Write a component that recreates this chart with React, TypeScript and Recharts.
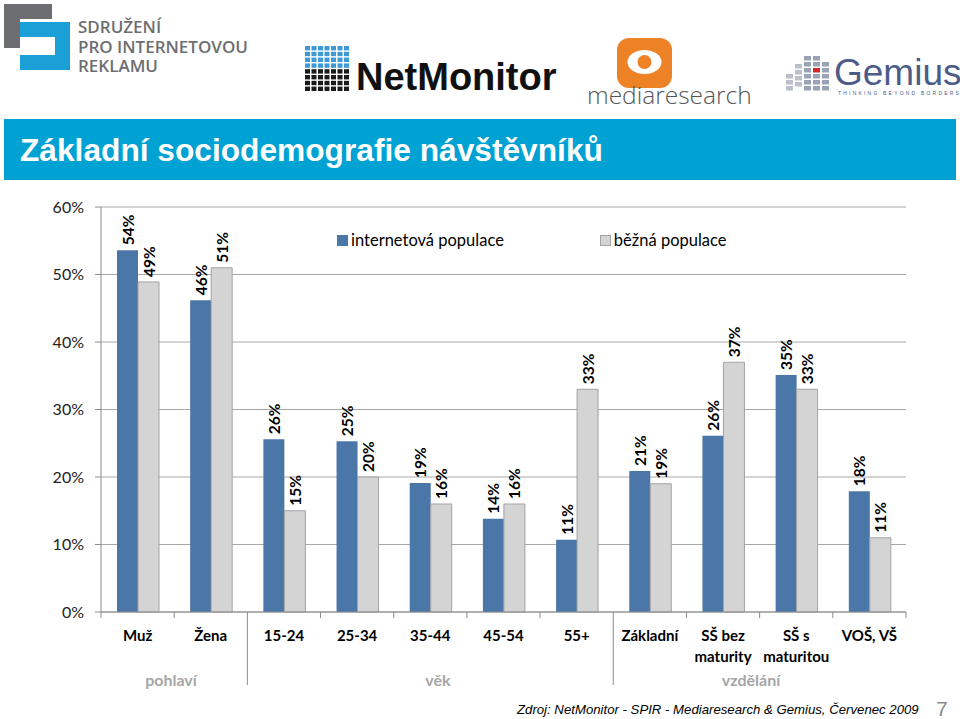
import React from "react";
import { BarChart, Bar, XAxis, YAxis, CartesianGrid, Legend, LabelList } from "recharts";

// ─── Data ─────────────────────────────────────────────────────────────────────

const categories = [
  "Muž",
  "Žena",
  "15-24",
  "25-34",
  "35-44",
  "45-54",
  "55+",
  "Základní",
  "SŠ bez\nmaturity",
  "SŠ s\nmaturitou",
  "VOŠ, VŠ",
];
const internetPopulation = [53.6, 46.2, 25.6, 25.3, 19.1, 13.8, 10.7, 20.9, 26.1, 35.1, 17.9];
const commonPopulation = [48.9, 51.0, 15.0, 20.0, 16.0, 16.0, 33.0, 19.0, 37.0, 33.0, 11.0];
const yTicks = [0, 10, 20, 30, 40, 50, 60];
const seriesNames = ["internetová populace", "běžná populace"];
const groupNames = ["pohlaví", "věk", "vzdělání"];
const groupStartIndex = [2, 7]; // categories where a new group begins

const data = categories.map((c, i) => ({
  name: c,
  internet: internetPopulation[i],
  common: commonPopulation[i],
}));

// ─── Style ────────────────────────────────────────────────────────────────────

const BLUE = "#4A76A8";
const GRAY = "#D4D4D4";
const GRAY_EDGE = "#A3A3A3";
const AXIS = "#8C8C8C";
const CALIBRI = "Lato, 'Open Sans', sans-serif";
const ARIAL = "'Liberation Sans', Arial, sans-serif";

const PLOT_LEFT = 101;
const PLOT_RIGHT = 906;
const BAND = (PLOT_RIGHT - PLOT_LEFT) / categories.length;

// ─── Pieces ───────────────────────────────────────────────────────────────────

function CategoryTick(props: any) {
  const { x, y, payload } = props;
  const idx = payload.index;
  const lines = String(payload.value).split("\n");
  const left = x - BAND / 2;
  const isSep = groupStartIndex.includes(idx);
  return (
    <g>
      <line x1={left} x2={left} y1={y} y2={isSep ? y + 73 : y + 6} stroke={AXIS} />
      {idx === categories.length - 1 && (
        <line x1={x + BAND / 2} x2={x + BAND / 2} y1={y} y2={y + 6} stroke={AXIS} />
      )}
      <text
        x={x}
        y={y + 29}
        textAnchor="middle"
        fontFamily={CALIBRI}
        fontWeight="bold"
        fontSize={15}
        fill="#000"
      >
        {lines.map((l, i) => (
          <tspan key={i} x={x} dy={i === 0 ? 0 : 21}>
            {l}
          </tspan>
        ))}
      </text>
    </g>
  );
}

function VerticalLabel(props: any) {
  const { x, y, width, value } = props;
  const cx = x + width / 2;
  return (
    <text
      transform={`translate(${cx},${y - 5}) rotate(-90)`}
      dominantBaseline="central"
      textAnchor="start"
      fontFamily={CALIBRI}
      fontWeight="bold"
      fontSize={15.5}
      fill="#000"
    >
      {`${Math.round(value)}%`}
    </text>
  );
}

function LegendBox() {
  const item = (label: string, fill: string, stroke: string, gapLeft: number) => (
    <div style={{ display: "flex", alignItems: "center", marginLeft: gapLeft }}>
      <div
        style={{
          width: 9,
          height: 9,
          background: fill,
          border: `1px solid ${stroke}`,
          marginRight: 3,
        }}
      />
      <span style={{ fontFamily: CALIBRI, fontSize: 16.5, color: "#000", whiteSpace: "nowrap" }}>
        {label}
      </span>
    </div>
  );
  return (
    <div style={{ display: "flex", alignItems: "center" }}>
      {item(seriesNames[0], BLUE, BLUE, 0)}
      {item(seriesNames[1], GRAY, GRAY_EDGE, 96)}
    </div>
  );
}

function SlideBackground() {
  const netDots: React.ReactNode[] = [];
  for (let r = 0; r < 8; r++) {
    for (let c = 0; c < 7; c++) {
      netDots.push(
        <rect
          key={`${r}-${c}`}
          x={305 + c * 6.5}
          y={46 + r * 5.8}
          width={5}
          height={4.4}
          fill={r < 4 ? "#3E9AD6" : "#1A1A1A"}
        />
      );
    }
  }
  const gemBlocks: React.ReactNode[] = [];
  for (let c = 0; c < 5; c++) {
    const h = [14, 24, 32, 32, 26][c];
    for (let r = 0; r < h / 6; r++) {
      gemBlocks.push(
        <rect
          key={`g${c}-${r}`}
          x={786 + c * 9}
          y={88 - h + r * 6}
          width={7}
          height={4.5}
          fill={c === 3 && r === 2 ? "#D9262B" : c < 2 ? "#B9C0CC" : "#9AA3B5"}
        />
      );
    }
  }
  return (
    <svg width={960} height={719} style={{ position: "absolute", left: 0, top: 0 }}>
      {/* SPIR logo */}
      <rect x={4} y={4} width={48} height={15} fill="#6D6E71" />
      <rect x={4} y={4} width={16} height={44} fill="#6D6E71" />
      <rect x={20} y={22} width={50} height={15} fill="#1AA0D6" />
      <rect x={55} y={22} width={15} height={48} fill="#1AA0D6" />
      <rect x={20} y={55} width={50} height={15} fill="#1AA0D6" />
      <text fontFamily="'Open Sans', sans-serif" fontWeight={600} fontSize={17} fill="#6D6E71">
        <tspan x={78} y={33}>SDRUŽENÍ</tspan>
        <tspan x={78} y={53}>PRO INTERNETOVOU</tspan>
        <tspan x={78} y={72}>REKLAMU</tspan>
      </text>

      {/* NetMonitor */}
      {netDots}
      <text x={356} y={90} fontFamily={ARIAL} fontWeight="bold" fontSize={38} fill="#111">
        NetMonitor
      </text>

      {/* mediaresearch */}
      <rect x={617} y={38} width={55} height={50} rx={12} fill="#EE8227" />
      <ellipse cx={644.5} cy={62} rx={17} ry={12} fill="#fff" />
      <circle cx={644.5} cy={62} r={7} fill="#EE8227" />
      <text x={587} y={104} fontFamily="'Open Sans', sans-serif" fontWeight={300} fontSize={24.5} fill="#555">
        mediaresearch
      </text>

      {/* Gemius */}
      {gemBlocks}
      <text fill="#4B5C88" fontFamily={ARIAL}>
        <tspan x={834} y={85} fontSize={37}>Gemius</tspan>
        <tspan x={838} y={95} fontSize={5} letterSpacing={2.2}>THINKING BEYOND BORDERS</tspan>
      </text>

      {/* title bar */}
      <rect x={4} y={119} width={952} height={61} fill="#00A1D3" />
      <text x={20} y={161} fontFamily={ARIAL} fontWeight="bold" fontSize={31.7} fill="#fff">
        Základní sociodemografie návštěvníků
      </text>

      {/* group labels */}
      <g fontFamily={CALIBRI} fontWeight="bold" fontSize={16} fill="#A6A6A6" textAnchor="middle">
        <text x={171} y={686}>{groupNames[0]}</text>
        <text x={438} y={686}>{groupNames[1]}</text>
        <text x={751} y={686}>{groupNames[2]}</text>
      </g>

      {/* footer */}
      <text x={517} y={714} fontFamily={ARIAL} fontStyle="italic" fontSize={13.2} fill="#000">
        Zdroj: NetMonitor - SPIR - Mediaresearch &amp; Gemius, Červenec 2009
      </text>
      <text x={936} y={716} fontFamily={ARIAL} fontSize={21} fill="#8C8C8C">
        7
      </text>
    </svg>
  );
}

// ─── App ──────────────────────────────────────────────────────────────────────

export default function App() {
  return (
    <div style={{ position: "absolute", left: 0, top: 0, width: 960, height: 719, background: "#fff" }}>
      <SlideBackground />
      <div style={{ position: "absolute", left: 0, top: 0 }}>
        <BarChart
          width={960}
          height={719}
          data={data}
          margin={{ top: 207, right: 54, bottom: 27, left: 41 }}
          barGap={0}
        >
          <CartesianGrid horizontal vertical={false} stroke="#A8A8A8" />
          <XAxis
            dataKey="name"
            height={80}
            interval={0}
            tickLine={false}
            tickSize={0}
            tickMargin={0}
            axisLine={{ stroke: AXIS }}
            tick={<CategoryTick />}
          />
          <YAxis
            width={60}
            domain={[0, 60]}
            ticks={yTicks}
            tickSize={6}
            tickMargin={11}
            tickLine={{ stroke: AXIS }}
            axisLine={{ stroke: AXIS }}
            tickFormatter={(v) => `${v}%`}
            tick={{ fontFamily: CALIBRI, fontSize: 16, fill: "#222" }}
          />
          <Legend
            layout="horizontal"
            verticalAlign="middle"
            wrapperStyle={{ top: 230, left: 337, width: 420, height: 22 }}
            content={() => <LegendBox />}
          />
          <Bar dataKey="internet" fill={BLUE} barSize={21} isAnimationActive={false}>
            <LabelList dataKey="internet" content={<VerticalLabel />} />
          </Bar>
          <Bar dataKey="common" fill={GRAY} stroke={GRAY_EDGE} barSize={21} isAnimationActive={false}>
            <LabelList dataKey="common" content={<VerticalLabel />} />
          </Bar>
        </BarChart>
      </div>
    </div>
  );
}
